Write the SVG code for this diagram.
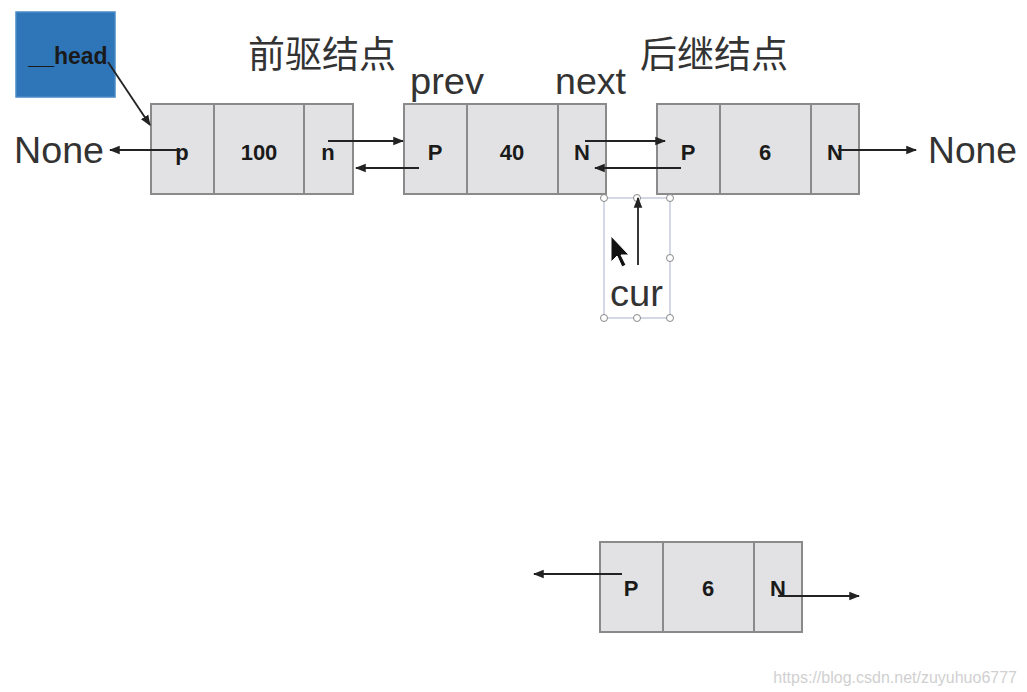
<svg xmlns="http://www.w3.org/2000/svg" width="1027" height="692" viewBox="0 0 1027 692">
<style>
.cell{fill:#e2e2e4;stroke:#8a8a8a;stroke-width:2}
.lbl{font-family:"Liberation Sans",Arial,sans-serif;font-weight:bold;font-size:22px;fill:#1a1a1a;text-anchor:middle}
.big{font-family:"Liberation Sans",Arial,sans-serif;font-size:36px;fill:#333}
.cn{font-family:"Noto Sans CJK SC",sans-serif;font-size:37px;fill:#333}
.ln{stroke:#222;stroke-width:1.8;fill:none}
.sel{fill:none;stroke:#b8c0d8;stroke-width:1.2}
.h{fill:#fff;stroke:#888;stroke-width:1}
</style>
<defs>
<marker id="ah" viewBox="0 0 10 10" refX="9" refY="5" markerWidth="6" markerHeight="6" orient="auto" markerUnits="strokeWidth">
<path d="M0,1 L10,5 L0,9 Z" fill="#222"/>
</marker>
</defs>
<rect width="1027" height="692" fill="#fff"/>
<g id="head">
<rect x="16" y="12" width="99" height="85" fill="#2f76b8" stroke="#4a8ac6" stroke-width="1.5"/>
<text x="68" y="64" class="lbl" style="font-size:23px">__head</text>
</g>
<g id="labels">
<text x="248" y="68" class="cn">前驱结点</text>
<text x="640" y="68" class="cn">后继结点</text>
<text x="410" y="94" class="big" textLength="74" lengthAdjust="spacingAndGlyphs">prev</text>
<text x="555" y="94" class="big" textLength="71" lengthAdjust="spacingAndGlyphs">next</text>
<text x="14" y="163" class="big" style="font-size:37px" textLength="90" lengthAdjust="spacingAndGlyphs">None</text>
<text x="928" y="163" class="big" style="font-size:37px" textLength="89" lengthAdjust="spacingAndGlyphs">None</text>
</g>
<g id="node1">
<rect x="151" y="104" width="63" height="90" class="cell"/>
<rect x="214" y="104" width="90" height="90" class="cell"/>
<rect x="304" y="104" width="49" height="90" class="cell"/>
<text x="182" y="160" class="lbl">p</text>
<text x="259" y="160" class="lbl">100</text>
<text x="328" y="160" class="lbl">n</text>
</g>
<g id="node2">
<rect x="404" y="104" width="63" height="90" class="cell"/>
<rect x="467" y="104" width="91" height="90" class="cell"/>
<rect x="558" y="104" width="48" height="90" class="cell"/>
<text x="435" y="160" class="lbl">P</text>
<text x="512" y="160" class="lbl">40</text>
<text x="582" y="160" class="lbl">N</text>
</g>
<g id="node3">
<rect x="657" y="104" width="63" height="90" class="cell"/>
<rect x="720" y="104" width="91" height="90" class="cell"/>
<rect x="811" y="104" width="48" height="90" class="cell"/>
<text x="688" y="160" class="lbl">P</text>
<text x="765" y="160" class="lbl">6</text>
<text x="835" y="160" class="lbl">N</text>
</g>
<g id="node4">
<rect x="600" y="542" width="63" height="90" class="cell"/>
<rect x="663" y="542" width="91" height="90" class="cell"/>
<rect x="754" y="542" width="48" height="90" class="cell"/>
<text x="631" y="596" class="lbl">P</text>
<text x="708" y="596" class="lbl">6</text>
<text x="778" y="596" class="lbl">N</text>
</g>
<g id="cur">
<rect x="604" y="198" width="66" height="120" class="sel"/>
<circle cx="604" cy="198" r="3.5" class="h"/>
<circle cx="637" cy="198" r="3.5" class="h"/>
<circle cx="670" cy="198" r="3.5" class="h"/>
<circle cx="670" cy="258" r="3.5" class="h"/>
<circle cx="604" cy="318" r="3.5" class="h"/>
<circle cx="637" cy="318" r="3.5" class="h"/>
<circle cx="670" cy="318" r="3.5" class="h"/>
<text x="610" y="306" class="big" textLength="53" lengthAdjust="spacingAndGlyphs">cur</text>
<path d="M611,236 L611,262 L617,256 L622,267 L626,265 L621,255 L629,255 Z" fill="#111" stroke="#fff" stroke-width="1"/>
</g>
<g id="connectors">
<line x1="108" y1="62" x2="150" y2="125" class="ln" marker-end="url(#ah)"/>
<line x1="180" y1="150" x2="110" y2="150" class="ln" marker-end="url(#ah)"/>
<line x1="328" y1="141" x2="403" y2="141" class="ln" marker-end="url(#ah)"/>
<line x1="419" y1="168" x2="356" y2="168" class="ln" marker-end="url(#ah)"/>
<line x1="585" y1="141" x2="665" y2="141" class="ln" marker-end="url(#ah)"/>
<line x1="681" y1="168" x2="595" y2="168" class="ln" marker-end="url(#ah)"/>
<line x1="838" y1="150" x2="916" y2="150" class="ln" marker-end="url(#ah)"/>
<line x1="638" y1="265" x2="638" y2="198" class="ln" marker-end="url(#ah)"/>
<line x1="622" y1="574" x2="534" y2="574" class="ln" marker-end="url(#ah)"/>
<line x1="778" y1="596" x2="859" y2="596" class="ln" marker-end="url(#ah)"/>
</g>
<text x="1017" y="683" text-anchor="end" style="font-family:'Liberation Sans',Arial,sans-serif;font-size:16px;fill:#d0d0d0">https://blog.csdn.net/zuyuhuo6777</text>
</svg>
